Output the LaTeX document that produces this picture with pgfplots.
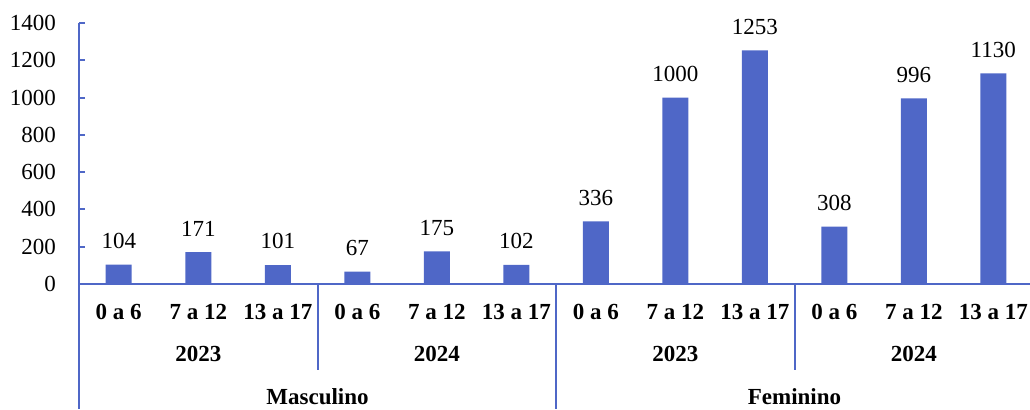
\documentclass[border=0pt]{standalone}
\usepackage{fontspec}
\setmainfont{Liberation Serif}
\usepackage{pgfplots}
\pgfplotsset{compat=1.18}
\definecolor{barblue}{RGB}{79,103,199}

\begin{document}
\fontsize{11.5}{13.8}\selectfont
\begin{tikzpicture}
\useasboundingbox (0,0) rectangle (515pt,204.5pt);
\begin{axis}[
  at={(39.5pt,62.5pt)}, anchor=south west,
  scale only axis, width=475.5pt, height=130.5pt,
  xmin=-0.5, xmax=11.462, ymin=0, ymax=1400,
  ybar, bar width=13pt,
  axis x line=bottom, axis y line=left,
  axis line style={barblue, -, line width=1pt},
  ytick={0,200,...,1400}, ytick pos=left,
  major tick length=3pt,
  every tick/.style={barblue, line width=1pt},
  tick align=inside,
  xtick=data,
  xticklabels={0 a 6,7 a 12,13 a 17,0 a 6,7 a 12,13 a 17,0 a 6,7 a 12,13 a 17,0 a 6,7 a 12,13 a 17},
  major x tick style={draw=none},
  xticklabel style={font=\bfseries, yshift=-6pt},
  yticklabel style={xshift=-7.5pt},
  /pgf/number format/assume math mode=true,
  /pgf/number format/1000 sep={},
  nodes near coords,
  every node near coord/.append style={yshift=4pt, black},
  clip=false,
]
\addplot[fill=barblue, draw=none] coordinates {
  (0,104) (1,171) (2,101) (3,67) (4,175) (5,102)
  (6,336) (7,1000) (8,1253) (9,308) (10,996) (11,1130)
};
% separators of the category levels
\draw[barblue, line width=1pt] (axis cs:-0.5,0) -- (axis cs:-0.5,-670);
\draw[barblue, line width=1pt] (axis cs:2.5,0) -- (axis cs:2.5,-461);
\draw[barblue, line width=1pt] (axis cs:5.5,0) -- (axis cs:5.5,-670);
\draw[barblue, line width=1pt] (axis cs:8.5,0) -- (axis cs:8.5,-461);
% year row
\node[font=\bfseries] at (axis cs:1,-375) {2023};
\node[font=\bfseries] at (axis cs:4,-375) {2024};
\node[font=\bfseries] at (axis cs:7,-375) {2023};
\node[font=\bfseries] at (axis cs:10,-375) {2024};
% sex row
\node[font=\bfseries] at (axis cs:2.5,-606) {Masculino};
\node[font=\bfseries] at (axis cs:8.5,-606) {Feminino};
\end{axis}
\end{tikzpicture}
\end{document}
